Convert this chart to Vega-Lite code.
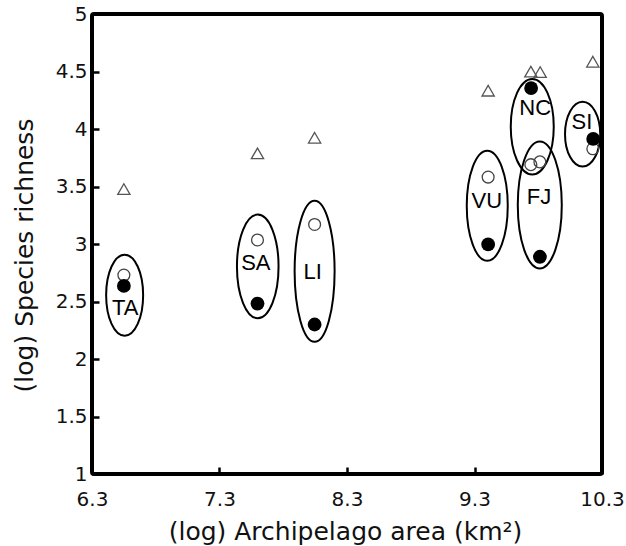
{
  "$schema": "https://vega.github.io/schema/vega-lite/v6.json",
  "width": 510,
  "height": 460,
  "autosize": "none",
  "padding": {"left": 92, "top": 14, "right": 24, "bottom": 72},
  "background": "white",
  "config": {
    "view": {"stroke": "#000", "strokeWidth": 4, "cornerRadius": 2},
    "font": "DejaVu Sans",
    "axis": {"grid": false, "domain": false, "labelColor": "#111", "titleColor": "#111", "titleFontWeight": "normal", "tickColor": "#000", "labelFlush": false}
  },
  "datasets": {
    "points": [
      {"site": "TA", "area": 6.55, "richness": 3.478, "kind": "triangle"},
      {"site": "TA", "area": 6.55, "richness": 2.73, "kind": "open"},
      {"site": "TA", "area": 6.55, "richness": 2.635, "kind": "filled"},
      {"site": "SA", "area": 7.598, "richness": 3.788, "kind": "triangle"},
      {"site": "SA", "area": 7.598, "richness": 3.035, "kind": "open"},
      {"site": "SA", "area": 7.598, "richness": 2.482, "kind": "filled"},
      {"site": "LI", "area": 8.046, "richness": 3.924, "kind": "triangle"},
      {"site": "LI", "area": 8.046, "richness": 3.17, "kind": "open"},
      {"site": "LI", "area": 8.046, "richness": 2.3, "kind": "filled"},
      {"site": "VU", "area": 9.407, "richness": 4.333, "kind": "triangle"},
      {"site": "VU", "area": 9.407, "richness": 3.582, "kind": "open"},
      {"site": "VU", "area": 9.407, "richness": 2.996, "kind": "filled"},
      {"site": "NC", "area": 9.742, "richness": 4.499, "kind": "triangle"},
      {"site": "NC", "area": 9.742, "richness": 3.69, "kind": "open"},
      {"site": "NC", "area": 9.744, "richness": 4.356, "kind": "filled"},
      {"site": "FJ", "area": 9.815, "richness": 4.495, "kind": "triangle"},
      {"site": "FJ", "area": 9.813, "richness": 3.714, "kind": "open"},
      {"site": "FJ", "area": 9.813, "richness": 2.889, "kind": "filled"},
      {"site": "SI", "area": 10.228, "richness": 4.585, "kind": "triangle"},
      {"site": "SI", "area": 10.228, "richness": 3.828, "kind": "open"},
      {"site": "SI", "area": 10.231, "richness": 3.914, "kind": "filled"}
    ],
    "groups": [
      {"site": "TA", "cx": 6.556, "cy": 2.555, "lx": 6.56, "ly": 2.44},
      {"site": "SA", "cx": 7.6, "cy": 2.805, "lx": 7.585, "ly": 2.832},
      {"site": "LI", "cx": 8.046, "cy": 2.762, "lx": 8.03, "ly": 2.758},
      {"site": "VU", "cx": 9.4, "cy": 3.332, "lx": 9.397, "ly": 3.372},
      {"site": "NC", "cx": 9.753, "cy": 4.02, "lx": 9.776, "ly": 4.182},
      {"site": "FJ", "cx": 9.812, "cy": 3.34, "lx": 9.806, "ly": 3.41},
      {"site": "SI", "cx": 10.148, "cy": 3.955, "lx": 10.142, "ly": 4.062}
    ]
  },
  "layer": [
    {
      "data": {"name": "groups"},
      "mark": {"type": "point", "filled": false, "size": 4, "stroke": "#000", "strokeWidth": 2, "opacity": 1},
      "encoding": {
        "x": {"field": "cx", "type": "quantitative", "scale": {"domain": [6.3, 10.3], "nice": false, "zero": false},
          "axis": {"values": [6.3, 7.3, 8.3, 9.3, 10.3], "format": ".1f", "labelFontSize": 20, "labelPadding": 22, "tickSize": -7, "tickWidth": 2.5,
            "title": "(log) Archipelago area (km²)", "titleFontSize": 25, "titleX": 253, "titleY": 57, "titleBaseline": "middle"}},
        "y": {"field": "cy", "type": "quantitative", "scale": {"domain": [1, 5], "nice": false, "zero": false},
          "axis": {"values": [1, 1.5, 2, 2.5, 3, 3.5, 4, 4.5, 5], "format": "~g", "labelFontSize": 20, "labelPadding": 12, "tickSize": -7, "tickWidth": 2.5,
            "title": "(log) Species richness", "titleFontSize": 25, "titleX": -68, "titleY": 241, "titleBaseline": "middle"}},
        "shape": {"field": "site", "type": "nominal", "legend": null,
          "scale": {"domain": ["TA", "SA", "LI", "VU", "NC", "FJ", "SI"],
            "range": [
              "M-18.5,0A18.5,40.5,0,1,0,18.5,0A18.5,40.5,0,1,0,-18.5,0Z",
              "M-20.8,0A20.8,51.8,0,1,0,20.8,0A20.8,51.8,0,1,0,-20.8,0Z",
              "M-20,0A20,70.5,0,1,0,20,0A20,70.5,0,1,0,-20,0Z",
              "M-20.5,0A20.5,55,0,1,0,20.5,0A20.5,55,0,1,0,-20.5,0Z",
              "M-21.5,0A21.5,47.8,0,1,0,21.5,0A21.5,47.8,0,1,0,-21.5,0Z",
              "M-22,0A22,63.5,0,1,0,22,0A22,63.5,0,1,0,-22,0Z",
              "M-17.6,0A17.6,32.4,0,1,0,17.6,0A17.6,32.4,0,1,0,-17.6,0Z"
            ]}}
      }
    },
    {
      "data": {"name": "groups"},
      "mark": {"type": "text", "font": "Liberation Sans", "fontSize": 22, "color": "#000", "baseline": "middle", "align": "center"},
      "encoding": {
        "x": {"field": "lx", "type": "quantitative"},
        "y": {"field": "ly", "type": "quantitative"},
        "text": {"field": "site"}
      }
    },
    {
      "data": {"name": "points"},
      "transform": [{"filter": "datum.kind === 'triangle'"}],
      "mark": {"type": "point", "shape": "triangle-up", "filled": false, "size": 150, "stroke": "#555", "strokeWidth": 1.3, "opacity": 1},
      "encoding": {
        "x": {"field": "area", "type": "quantitative"},
        "y": {"field": "richness", "type": "quantitative"}
      }
    },
    {
      "data": {"name": "points"},
      "transform": [{"filter": "datum.kind === 'open'"}],
      "mark": {"type": "point", "shape": "circle", "filled": false, "size": 140, "stroke": "#444", "strokeWidth": 1.3, "opacity": 1},
      "encoding": {
        "x": {"field": "area", "type": "quantitative"},
        "y": {"field": "richness", "type": "quantitative"}
      }
    },
    {
      "data": {"name": "points"},
      "transform": [{"filter": "datum.kind === 'filled'"}],
      "mark": {"type": "point", "shape": "circle", "filled": true, "size": 190, "color": "#000", "opacity": 1},
      "encoding": {
        "x": {"field": "area", "type": "quantitative"},
        "y": {"field": "richness", "type": "quantitative"}
      }
    }
  ]
}
